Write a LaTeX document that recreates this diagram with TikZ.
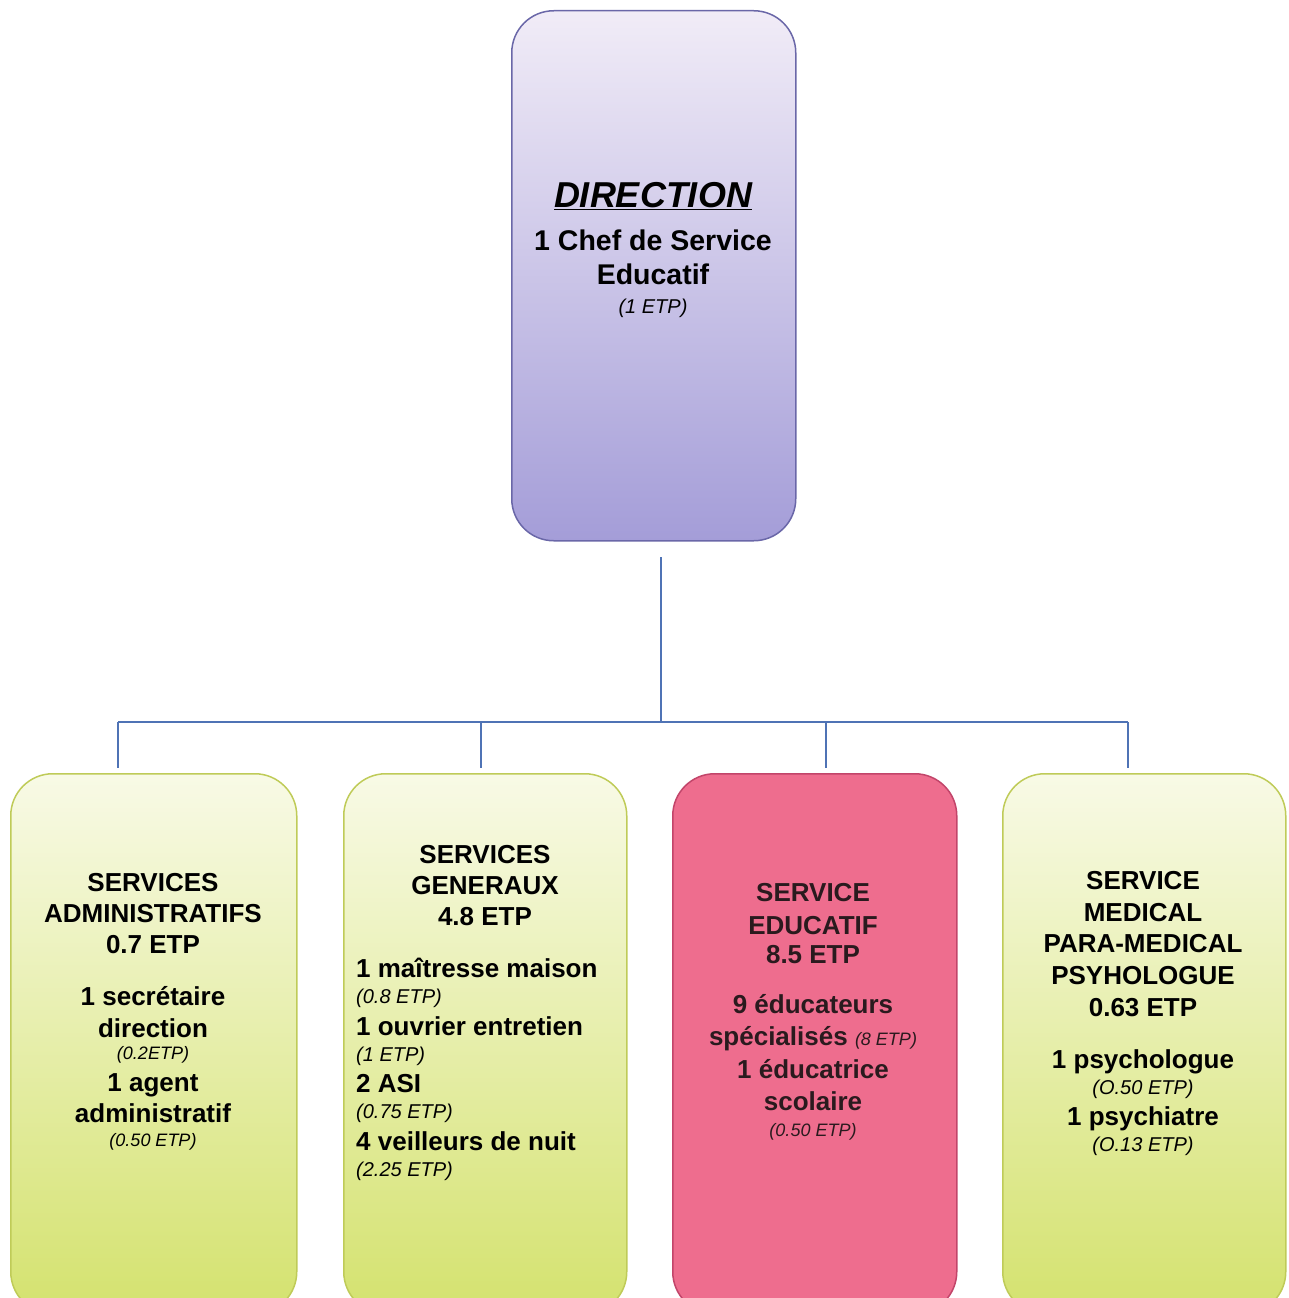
\documentclass[tikz,border=0pt]{standalone}
\usepackage{fontspec}
\setmainfont{Liberation Sans}
\definecolor{dirtop}{HTML}{F1ECF7}
\definecolor{dirbot}{HTML}{A49DD8}
\definecolor{dirborder}{HTML}{6A67A8}
\definecolor{grtop}{HTML}{F8FAE6}
\definecolor{grbot}{HTML}{D4E26E}
\definecolor{grborder}{HTML}{BFCB58}
\definecolor{pk}{HTML}{EE6D8E}
\definecolor{pkborder}{HTML}{C2456A}
\definecolor{pktext}{HTML}{2A1A1E}
\definecolor{linkblue}{HTML}{4F73B5}
\begin{document}
\begin{tikzpicture}[x=1pt,y=-1pt,
  box/.style={draw, rounded corners=42pt, line width=1.5pt, anchor=north west, inner sep=0pt},
  dirbox/.style={box, draw=dirborder, top color=dirtop, bottom color=dirbot},
  greenbox/.style={box, draw=grborder, top color=grtop, bottom color=grbot},
  pinkbox/.style={box, draw=pkborder, fill=pk},
  hd/.style={anchor=base, inner sep=0pt, font=\bfseries\fontsize{26}{31}\selectfont},
  big/.style={anchor=base, inner sep=0pt, font=\bfseries\fontsize{28.5}{33}\selectfont},
  note/.style={anchor=base, inner sep=0pt, font=\itshape\fontsize{18}{22}\selectfont},
  notel/.style={anchor=base, inner sep=0pt, font=\itshape\fontsize{20}{24}\selectfont},
  link/.style={draw=linkblue, line width=1.6pt}]
\useasboundingbox (0,0) rectangle (1288,1298);
\clip (0,0) rectangle (1288,1298);

% boxes
\node[dirbox, minimum width=284pt, minimum height=530pt] (dir) at (511,10) {};
\node[greenbox, minimum width=286pt, minimum height=540pt] (adm) at (10,773) {};
\node[greenbox, minimum width=283pt, minimum height=540pt] (gen) at (343,773) {};
\node[pinkbox, minimum width=284pt, minimum height=540pt] (edu) at (672,773) {};
\node[greenbox, minimum width=283pt, minimum height=540pt] (med) at (1002,773) {};

% connectors
\coordinate (d0) at (661,557);
\coordinate (bus) at (661,722);
\coordinate (b1) at (118,722);
\coordinate (b2) at (481,722);
\coordinate (b3) at (826,722);
\coordinate (b4) at (1128,722);
\coordinate (e1) at (118,768);
\coordinate (e2) at (481,768);
\coordinate (e3) at (826,768);
\coordinate (e4) at (1128,768);
\draw[link] (d0) -- (bus);
\draw[link] (b1) -- (b4);
\draw[link] (b1) -- (e1);
\draw[link] (b2) -- (e2);
\draw[link] (b3) -- (e3);
\draw[link] (b4) -- (e4);

% direction text
\node[anchor=base, inner sep=0pt, font=\bfseries\itshape\fontsize{36}{42}\selectfont] (t0) at (653,207) {\underline{DIRECTION}};
\node[big] (t1) at (653,250) {1 Chef de Service};
\node[big] (t2) at (653,284) {Educatif};
\node[notel] (t3) at (653,313) {(1 ETP)};

% administratifs
\node[hd] (a1) at (153,891) {SERVICES};
\node[hd] (a2) at (153,922) {ADMINISTRATIFS};
\node[hd] (a3) at (153,953) {0.7 ETP};
\node[hd] (a4) at (153,1005) {1 secrétaire};
\node[hd] (a5) at (153,1037) {direction};
\node[note] (a6) at (153,1059) {(0.2ETP)};
\node[hd] (a7) at (153,1091) {1 agent};
\node[hd] (a8) at (153,1122) {administratif};
\node[note] (a9) at (153,1146) {(0.50 ETP)};

% generaux
\node[hd] (g1) at (485,863) {SERVICES};
\node[hd] (g2) at (485,894) {GENERAUX};
\node[hd] (g3) at (485,925) {4.8 ETP};
\node[hd, anchor=base west] (g4) at (356,977) {1 maîtresse maison};
\node[notel, anchor=base west] (g5) at (356,1003) {(0.8 ETP)};
\node[hd, anchor=base west] (g6) at (356,1035) {1 ouvrier entretien};
\node[notel, anchor=base west] (g7) at (356,1061) {(1 ETP)};
\node[hd, anchor=base west] (g8) at (356,1092) {2 ASI};
\node[notel, anchor=base west] (g9) at (356,1118) {(0.75 ETP)};
\node[hd, anchor=base west] (g10) at (356,1150) {4 veilleurs de nuit};
\node[notel, anchor=base west] (g11) at (356,1176) {(2.25 ETP)};

% educatif
\begin{scope}[every node/.append style={text=pktext}]
\node[hd] (p1) at (813,901) {SERVICE};
\node[hd] (p2) at (813,934) {EDUCATIF};
\node[hd] (p3) at (813,963) {8.5 ETP};
\node[hd] (p4) at (813,1013) {9 éducateurs};
\node[hd] (p5) at (813,1045) {spécialisés {\normalfont\itshape\fontsize{18}{22}\selectfont (8 ETP)}};
\node[hd] (p6) at (813,1078) {1 éducatrice};
\node[hd] (p7) at (813,1110) {scolaire};
\node[note] (p8) at (813,1136) {(0.50 ETP)};
\end{scope}

% medical
\node[hd] (m1) at (1143,889) {SERVICE};
\node[hd] (m2) at (1143,921) {MEDICAL};
\node[hd] (m3) at (1143,952) {PARA-MEDICAL};
\node[hd] (m4) at (1143,984) {PSYHOLOGUE};
\node[hd] (m5) at (1143,1016) {0.63 ETP};
\node[hd] (m6) at (1143,1068) {1 psychologue};
\node[notel] (m7) at (1143,1094) {(O.50 ETP)};
\node[hd] (m8) at (1143,1125) {1 psychiatre};
\node[notel] (m9) at (1143,1151) {(O.13 ETP)};
\end{tikzpicture}
\end{document}
